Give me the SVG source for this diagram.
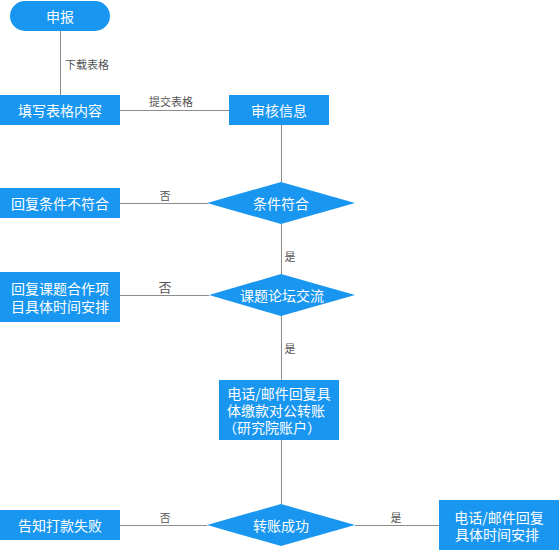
<svg xmlns="http://www.w3.org/2000/svg" width="560" height="551" viewBox="0 0 560 551">
<style>
.n{fill:#1896f0}
.t{font-family:"Noto Sans CJK SC","Noto Sans",sans-serif;font-size:14px;fill:#fff;text-anchor:middle;dominant-baseline:central}
.e{stroke:#8c8c8c;stroke-width:1;fill:none}
.l{font-family:"Noto Sans CJK SC","Noto Sans",sans-serif;font-size:11px;fill:#555;text-anchor:middle;dominant-baseline:central}
</style>
<rect width="560" height="551" fill="#fff"/>
<g id="edges">
<path class="e" d="M60.5 31V95"/>
<text class="l" x="87" y="64">下载表格</text>
<path class="e" d="M120 110.5H229"/>
<text class="l" x="171" y="101">提交表格</text>
<path class="e" d="M281.5 125V182"/>
<path class="e" d="M120 203.5H208"/>
<text class="l" x="165" y="195">否</text>
<path class="e" d="M281.5 224V274"/>
<text class="l" x="290" y="256">是</text>
<path class="e" d="M120 295.5H209"/>
<text class="l" x="165" y="286" style="font-size:13px">否</text>
<path class="e" d="M281.5 315V380"/>
<text class="l" x="290" y="348">是</text>
<path class="e" d="M281.5 440V504"/>
<path class="e" d="M120 525.5H207"/>
<text class="l" x="165" y="517">否</text>
<path class="e" d="M355 525.5H439"/>
<text class="l" x="396" y="517">是</text>
</g>
<g id="n1"><rect class="n" x="10" y="1" width="100" height="30" rx="15"/><text class="t" x="60" y="16">申报</text></g>
<g id="n2"><rect class="n" x="0" y="95" width="120" height="30"/><text class="t" x="60" y="110">填写表格内容</text></g>
<g id="n3"><rect class="n" x="229" y="95" width="100" height="30"/><text class="t" x="279" y="110">审核信息</text></g>
<g id="n4"><polygon class="n" points="281,182 355,203 281,224 207,203"/><text class="t" x="281" y="203">条件符合</text></g>
<g id="n5"><rect class="n" x="0" y="188" width="120" height="30"/><text class="t" x="60" y="203">回复条件不符合</text></g>
<g id="n6"><polygon class="n" points="281,274 355,295 281,316 209,295"/><text class="t" x="282" y="295">课题论坛交流</text></g>
<g id="n7"><rect class="n" x="0" y="272" width="120" height="50"/><text class="t" x="60" y="288">回复课题合作项</text><text class="t" x="60" y="306">目具体时间安排</text></g>
<g id="n8"><rect class="n" x="219" y="380" width="120" height="60"/><text class="t" x="279" y="393">电话/邮件回复具</text><text class="t" x="276" y="410">体缴款对公转账</text><text class="t" x="272" y="427">（研究院账户）</text></g>
<g id="n9"><polygon class="n" points="281,504 355,525 281,546 207,525"/><text class="t" x="281" y="525">转账成功</text></g>
<g id="n10"><rect class="n" x="0" y="510" width="120" height="30"/><text class="t" x="60" y="525">告知打款失败</text></g>
<g id="n11"><rect class="n" x="439" y="500" width="120" height="50"/><text class="t" x="499" y="517">电话/邮件回复</text><text class="t" x="497" y="534">具体时间安排</text></g>
</svg>
